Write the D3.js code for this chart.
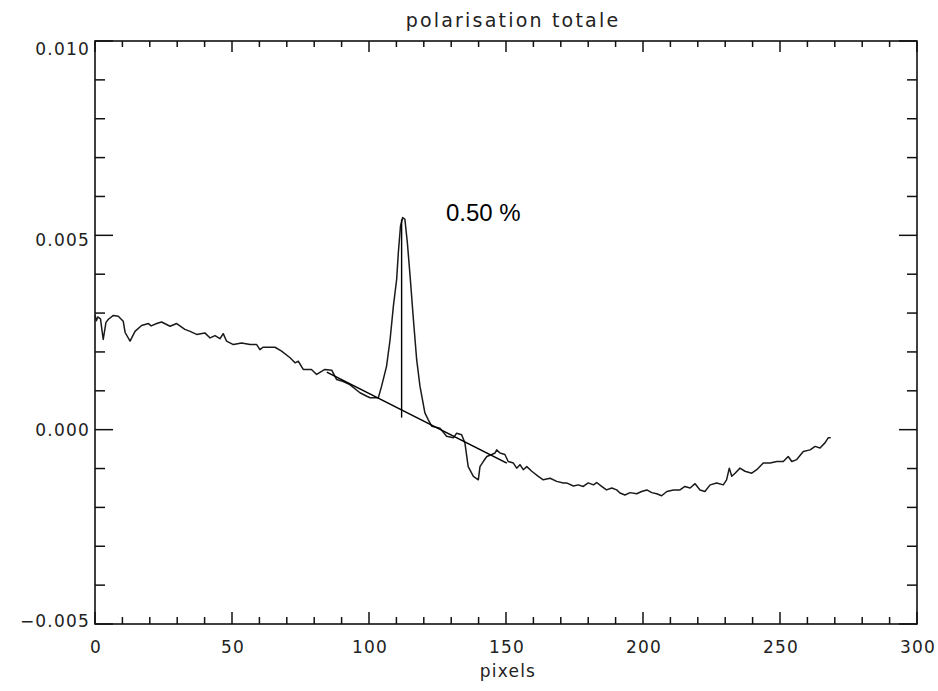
<!DOCTYPE html>
<html lang="en">
<head>
<meta charset="UTF-8">
<title>polarisation totale</title>
<script src="https://d3js.org/d3.v7.min.js"></script>
<style>
    body {margin: 0; background: #fff;}
    svg {display: block;}
    .frame {fill: none; stroke: #111; stroke-width: 1.6;}
    .tick {stroke: #111; stroke-width: 1.5;}
    .lbl {font-family: "DejaVu Sans", sans-serif; font-size: 17px; fill: #222; letter-spacing: 1.2px;}
    .title {font-size: 19px; letter-spacing: 2.2px;}
    .curve {fill: none; stroke: #1a1a1a; stroke-width: 1.5; stroke-linejoin: round;}
    .fit {stroke: #000; stroke-width: 1.6;}
    .note {font-family: "Liberation Sans", Arial, sans-serif; font-size: 24px; fill: #000;}
</style>
</head>
<body>
<div id="chart"></div>
<script>
    // spectrum, x in pixels, y = total polarisation
    var pix = [0, 0.5, 1, 2, 3, 4, 4.9, 6.7, 8.5, 10.3, 11, 12.8, 14.6, 17, 19.5, 20.5, 22.5, 24.3,
        27.4, 29.8, 32.8, 34.7, 37.1, 40.1, 42, 43.8, 45.6, 46.8, 48, 50.5, 53.5, 56.6, 59, 60.2,
        61.3, 65.7, 68.1, 71.2, 73, 74.2, 76, 79, 80.9, 82.7, 83.9, 86.4, 88.2, 90.6, 93, 96.7,
        99.2, 100.4, 103.4, 104.6, 106.4, 107.7, 108.9, 110.1, 110.7, 111.5, 112.3, 113.1, 114,
        115, 116.2, 117.4, 118.6, 120.4, 121.6, 122.9, 125.9, 128.3, 130.8, 132, 133.8, 135,
        136.2, 138.1, 139.9, 140.5, 141.7, 143, 144.8, 146, 146.6, 147.8, 149.6, 150.8, 152.7,
        153.9, 155.1, 156.3, 157.6, 159.4, 161.8, 163.6, 166.1, 168.5, 170.9, 172.1, 174.6,
        176.4, 178.2, 180, 181.9, 183.1, 184.9, 186.7, 188.6, 190.4, 191.6, 193.4, 195.3, 197.7,
        199.5, 201.4, 203.2, 205, 206.8, 208.7, 211.1, 213.5, 215.3, 217.2, 219, 220.8, 222.6,
        224.5, 226.9, 229.3, 230.5, 231.5, 232.4, 233.6, 235.4, 237.2, 239.7, 241.5, 243.9,
        246.4, 248.8, 251.2, 253, 254.3, 256.1, 258.5, 261, 262.8, 264.6, 266.4, 267.6, 268.5];
    var pol = [2.95, 2.80, 2.90, 2.85, 2.32, 2.76, 2.84, 2.94, 2.92, 2.79, 2.50, 2.28, 2.53, 2.68, 2.73, 2.67, 2.73, 2.77,
        2.66, 2.73, 2.58, 2.53, 2.45, 2.49, 2.36, 2.42, 2.34, 2.47, 2.28, 2.19, 2.23, 2.19, 2.19, 2.06,
        2.12, 2.12, 2.02, 1.85, 1.72, 1.76, 1.55, 1.55, 1.42, 1.50, 1.55, 1.53, 1.29, 1.24, 1.16, 0.95,
        0.86, 0.82, 0.82, 1.12, 1.63, 2.32, 3.18, 3.87, 4.55, 5.24, 5.46, 5.41, 4.81,
        3.95, 2.84, 1.80, 1.12, 0.43, 0.26, 0.09, 0.04, -0.17, -0.21, -0.09, -0.13, -0.34,
        -0.95, -1.20, -1.29, -0.95, -0.82, -0.69, -0.64, -0.60, -0.52, -0.60, -0.64, -0.82, -0.86,
        -0.99, -0.90, -1.03, -0.95, -1.07, -1.20, -1.29, -1.25, -1.33, -1.37, -1.37, -1.45,
        -1.42, -1.46, -1.37, -1.42, -1.36, -1.46, -1.55, -1.50, -1.55, -1.63, -1.68, -1.62, -1.65,
        -1.59, -1.55, -1.62, -1.65, -1.70, -1.59, -1.55, -1.55, -1.46, -1.50, -1.39, -1.55, -1.59,
        -1.42, -1.37, -1.42, -1.29, -0.99, -1.20, -1.12, -0.99, -1.07, -1.12, -1.03, -0.86,
        -0.86, -0.82, -0.82, -0.69, -0.82, -0.77, -0.56, -0.52, -0.43, -0.47, -0.34, -0.21, -0.21]
        .map(function(v) {return v * 1e-3;});

    // continuum fit under the line and the peak marker
    var fitX = [84.6, 150.3],
        fitY = [0.00148, -0.00086];
    var peakX = 111.9,
        peakY = [0.00031, 0.00541];
    var note = {x: 128.1, y: 0.00536, text: "0.50 %"};

    var xMajor = [0, 50, 100, 150, 200, 250, 300],
        yMajor = [0.010, 0.005, 0.000, -0.005],
        yLabels = ["0.010", "0.005", "0.000", "\u22120.005"];

    var W = 938, H = 691,
        pLeft = 95, pRight = 917, pTop = 41, pBottom = 624;

    var x = d3.scaleLinear().domain([0, 300]).range([pLeft, pRight]);
    var y = d3.scaleLinear().domain([-0.005, 0.010]).range([pBottom, pTop]);

    var svg = d3.select("#chart").append("svg")
        .attr("width", W)
        .attr("height", H);

    // ticks on all four sides, pointing inward
    var xMinor = d3.range(0, 301, 10),
        yMinor = d3.range(-5, 11).map(function(d) {return d * 1e-3;});

    svg.append("g").selectAll("line")
        .data(xMinor).enter().append("line")
        .attr("class", "tick")
        .attr("x1", function(d) {return x(d);}).attr("x2", function(d) {return x(d);})
        .attr("y1", pBottom)
        .attr("y2", function(d) {return pBottom - (d % 50 == 0 ? 12 : 7);});
    svg.append("g").selectAll("line")
        .data(xMinor).enter().append("line")
        .attr("class", "tick")
        .attr("x1", function(d) {return x(d);}).attr("x2", function(d) {return x(d);})
        .attr("y1", pTop)
        .attr("y2", function(d) {return pTop + (d % 50 == 0 ? 11 : 6);});
    svg.append("g").selectAll("line")
        .data(yMinor).enter().append("line")
        .attr("class", "tick")
        .attr("y1", function(d) {return y(d);}).attr("y2", function(d) {return y(d);})
        .attr("x1", pLeft)
        .attr("x2", function(d, i) {return pLeft + ((i % 5) == 0 ? 18 : 10);});
    svg.append("g").selectAll("line")
        .data(yMinor).enter().append("line")
        .attr("class", "tick")
        .attr("y1", function(d) {return y(d);}).attr("y2", function(d) {return y(d);})
        .attr("x1", pRight)
        .attr("x2", function(d, i) {return pRight - ((i % 5) == 0 ? 18 : 10);});

    svg.append("rect")
        .attr("class", "frame")
        .attr("x", pLeft).attr("y", pTop)
        .attr("width", pRight - pLeft).attr("height", pBottom - pTop);

    // tick labels
    svg.append("g").selectAll("text")
        .data(xMajor).enter().append("text")
        .attr("class", "lbl")
        .attr("x", function(d) {return x(d) + 1;})
        .attr("y", 653)
        .attr("text-anchor", "middle")
        .text(function(d) {return d;});

    svg.append("g").selectAll("text")
        .data(yMajor).enter().append("text")
        .attr("class", "lbl")
        .attr("x", 90)
        .attr("y", function(d) {return y(d) + (430 - y(d)) * 0.02;})
        .attr("dy", "0.38em")
        .attr("text-anchor", "end")
        .text(function(d, i) {return yLabels[i];});

    svg.append("text")
        .attr("class", "lbl title")
        .attr("x", (pLeft + pRight) / 2 + 7)
        .attr("y", 27)
        .attr("text-anchor", "middle")
        .text("polarisation totale");

    svg.append("text")
        .attr("class", "lbl")
        .attr("x", (pLeft + pRight) / 2 + 2)
        .attr("y", 677)
        .attr("text-anchor", "middle")
        .text("pixels");

    // data
    var line = d3.line()
        .x(function(d, i) {return x(pix[i]);})
        .y(function(d) {return y(d);});

    svg.append("path")
        .datum(pol)
        .attr("class", "curve")
        .attr("d", line);

    svg.append("line")
        .attr("class", "fit")
        .attr("x1", x(fitX[0])).attr("y1", y(fitY[0]))
        .attr("x2", x(fitX[1])).attr("y2", y(fitY[1]));

    svg.append("line")
        .attr("class", "fit")
        .style("stroke-width", 1.4)
        .attr("x1", x(peakX)).attr("y1", y(peakY[0]))
        .attr("x2", x(peakX)).attr("y2", y(peakY[1]));

    svg.append("text")
        .attr("class", "note")
        .attr("x", x(note.x))
        .attr("y", y(note.y))
        .text(note.text);
</script>
</body>
</html>
